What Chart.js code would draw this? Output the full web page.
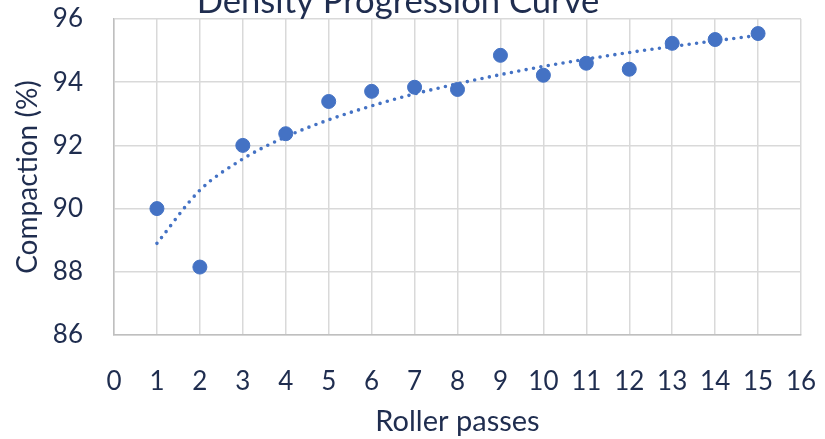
<!DOCTYPE html>
<html lang="en">
<head>
    <meta charset="UTF-8">
    <title>Density Progression Curve</title>
    <script src="https://cdn.jsdelivr.net/npm/chart.js@4.4.1/dist/chart.umd.min.js"></script>
    <style>
        body { margin: 0; background: #fff; }
        #wrap { width: 825px; height: 439px; }
    </style>
</head>
<body>
<div id="wrap"><canvas id="density"></canvas></div>
<script>
  // roller passes vs measured compaction
  const passes = [1, 2, 3, 4, 5, 6, 7, 8, 9, 10, 11, 12, 13, 14, 15];
  const compaction = [90.0, 88.15, 92.0, 92.37, 93.39, 93.71, 93.84, 93.77, 94.85, 94.22, 94.6, 94.41, 95.23, 95.35, 95.54];
  // log trendline
  const trend = [88.9, 90.58, 91.57, 92.27, 92.81, 93.25, 93.63, 93.95, 94.24, 94.5, 94.73, 94.94, 95.13, 95.31, 95.48];
  const xTicks = [0, 16];
  const yTicks = [86, 96];

  const blue = "#4472c4";
  const ink = "#1f2d4f";
  const fontFam = "Lato, 'Open Sans', sans-serif";

  const titlePlugin = {
    id: "topTitle",
    afterDraw(chart) {
      const c = chart.ctx;
      const text = "Density Progression Curve";
      c.save();
      c.font = "30px " + fontFam;
      let w = c.measureText(text).width;
      let size = 30 * 403 / w;
      c.font = size + "px " + fontFam;
      c.fillStyle = ink;
      c.textAlign = "center";
      c.textBaseline = "alphabetic";
      c.fillText(text, 398, 13);
      c.restore();
    }
  };

  const ctx = document.getElementById("density");
  new Chart(ctx, {
    type: "scatter",
    data: {
      datasets: [
        {
          label: "trend",
          type: "line",
          data: passes.map((p, i) => ({x: p, y: trend[i]})),
          borderColor: blue,
          borderWidth: 3.6,
          borderDash: [0, 7.5],
          borderCapStyle: "round",
          cubicInterpolationMode: "monotone",
          pointRadius: 0,
          fill: false,
          order: 2
        },
        {
          label: "compaction",
          data: passes.map((p, i) => ({x: p, y: compaction[i]})),
          backgroundColor: blue,
          borderColor: blue,
          pointRadius: 7,
          pointHoverRadius: 7,
          order: 1
        }
      ]
    },
    options: {
      responsive: true,
      maintainAspectRatio: false,
      animation: false,
      layout: { padding: { left: 5, right: 24, top: 19, bottom: 0 } },
      plugins: {
        legend: { display: false },
        tooltip: { enabled: false }
      },
      scales: {
        x: {
          type: "linear",
          min: xTicks[0],
          max: xTicks[1],
          ticks: { stepSize: 1, padding: 31, color: ink, font: { size: 26, family: fontFam } },
          grid: { color: "#d9d9d9", lineWidth: 1.5, drawTicks: false },
          border: { color: "#bfbfbf", width: 1.5 },
          title: { display: true, text: "Roller passes", color: ink, padding: { top: 0, bottom: 0 }, font: { size: 29, family: fontFam } },
          afterFit(scale) {
            scale.height = 104;
            scale.paddingLeft = 0;
            scale.paddingRight = 0;
          }
        },
        y: {
          min: yTicks[0],
          max: yTicks[1],
          ticks: { stepSize: 2, padding: 31, color: ink, font: { size: 26, family: fontFam } },
          grid: { color: "#d9d9d9", lineWidth: 1.5, drawTicks: false },
          border: { color: "#bfbfbf", width: 1.5 },
          title: { display: true, text: "Compaction (%)", color: ink, padding: { top: 6, bottom: 0 }, font: { size: 28, family: fontFam } },
          afterFit(scale) {
            scale.width = 109;
            scale.paddingTop = 0;
            scale.paddingBottom = 0;
          }
        }
      }
    },
    plugins: [titlePlugin]
  });
</script>
</body>
</html>
